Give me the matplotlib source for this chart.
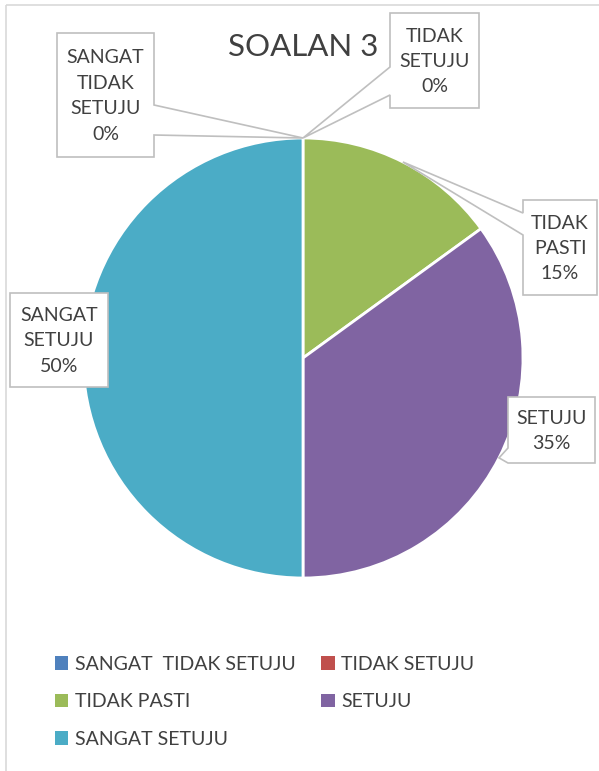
import numpy as np
import matplotlib
matplotlib.use("Agg")
import matplotlib.pyplot as plt
from matplotlib.patches import Polygon, Rectangle

plt.rcParams["font.family"] = ["Lato", "DejaVu Sans"]

title = "SOALAN 3"
categories = ["SANGAT  TIDAK SETUJU", "TIDAK SETUJU", "TIDAK PASTI", "SETUJU", "SANGAT SETUJU"]
label_names = ["SANGAT\nTIDAK\nSETUJU", "TIDAK\nSETUJU", "TIDAK\nPASTI", "SETUJU", "SANGAT\nSETUJU"]
percents = [0, 0, 15, 35, 50]
colors = ["#4F81BD", "#C0504D", "#9BBB59", "#8064A2", "#4BACC6"]

W, H = 599, 771
cx, cy, R = 303, 358, 220
txt = "#404040"
edge = "#BFBFBF"

fig = plt.figure(figsize=(W / 100, H / 100), dpi=100)

#%% Pie
ax = fig.add_axes([(cx - R) / W, (H - cy - R) / H, 2 * R / W, 2 * R / H])
wedges, _ = ax.pie(percents, colors=colors, startangle=90, counterclock=False,
                   radius=1, wedgeprops=dict(edgecolor="white", linewidth=2))
ax.set_xlim(-1, 1)
ax.set_ylim(-1, 1)
ax.set_aspect("equal")
ax.axis("off")

#%% Overlay in pixel coordinates
ov = fig.add_axes([0, 0, 1, 1], zorder=5)
ov.set_xlim(0, W)
ov.set_ylim(H, 0)
ov.axis("off")
ov.patch.set_alpha(0)

# chart area border
ov.add_patch(Rectangle((6, 5), W + 10, H + 10, fill=False, edgecolor="#D9D9D9", lw=1.2))

ov.text(cx, 47, title, ha="center", va="center", fontsize=22.5, color=txt)

# callout boxes: (x0, y0, x1, y1), side of the pointer, pointer base span
boxes = [
    ((57, 33, 154, 157), "right", (105, 135)),
    ((390, 13, 479, 108), "left", (67, 95)),
    ((523, 200, 597, 295), "left", (213, 235)),
    ((508, 397, 595, 463), "left", (448, 463)),
    ((10, 293, 108, 387), None, None),
]


def callout(box, side, span, tip):
    x0, y0, x1, y1 = box
    if side is None:
        return [(x0, y0), (x1, y0), (x1, y1), (x0, y1)]
    a, b = span
    if side == "right":
        return [(x0, y0), (x1, y0), (x1, a), tip, (x1, b), (x1, y1), (x0, y1)]
    return [(x0, y0), (x1, y0), (x1, y1), (x0, y1), (x0, b), tip, (x0, a)]


for w, name, p, (box, side, span) in zip(wedges, label_names, percents, boxes):
    mid = np.deg2rad((w.theta1 + w.theta2) / 2)
    tip = (cx + R * np.cos(mid), cy - R * np.sin(mid))
    ov.add_patch(Polygon(callout(box, side, span, tip), closed=True,
                         facecolor="white", edgecolor=edge, lw=1.2))
    ov.text((box[0] + box[2]) / 2, (box[1] + box[3]) / 2 + 1, f"{name}\n{p}%",
            ha="center", va="center", fontsize=14, color=txt, linespacing=1.6)

#%% Legend
order = [0, 2, 4, 1, 3]
handles = [Rectangle((0, 0), 1, 1, facecolor=colors[i]) for i in order]
fig.legend(handles, [categories[i] for i in order], ncol=2, frameon=False,
           loc="upper left", bbox_to_anchor=(37 / W, 1 - 638 / H),
           fontsize=14, labelcolor=txt, handlelength=0.7, handleheight=0.7,
           handletextpad=0.35, columnspacing=1.3, labelspacing=1.06)

fig.savefig("out.png", dpi=100)
